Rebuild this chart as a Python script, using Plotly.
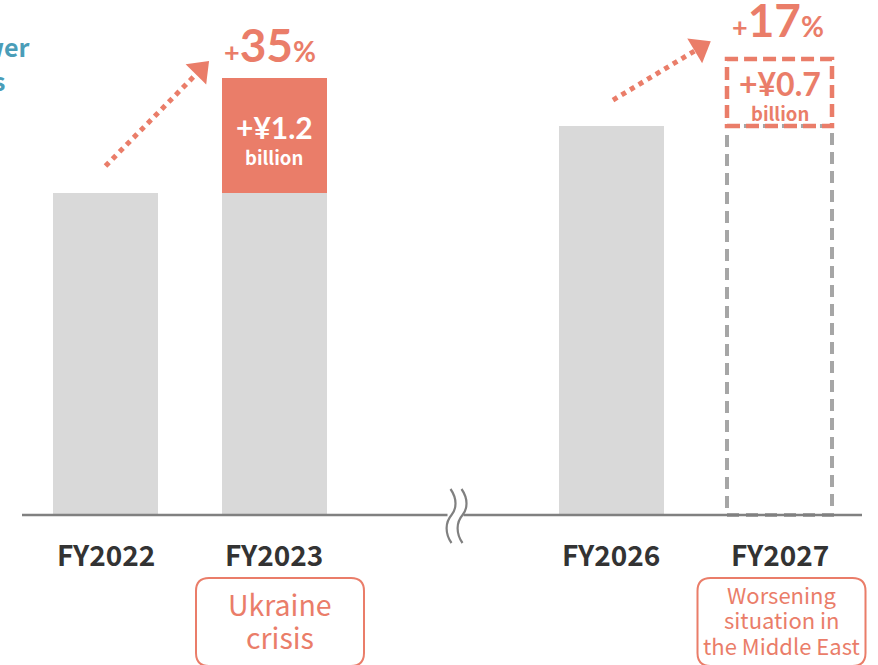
import math
import plotly.graph_objects as go

# ---------------- data ----------------
categories = ["FY2022", "FY2023", "FY2026", "FY2027"]
positions = [0, 1, 3, 4]
base_values = [3.36, 3.36, 4.06, 4.06]      # ¥ billion (estimated)
increments = [0.0, 1.2, 0.0, 0.7]           # ¥ billion
increase_labels = ["+¥1.2", "+¥0.7"]
pct_labels = ["35", "17"]
events = [["Ukraine", "crisis"], ["Worsening", "situation in", "the Middle East"]]
side_title = ["Power", "costs"]

# ---------------- styles ----------------
GRAY = "#D9D9D9"
SALMON = "#EA7D69"
DARK = "#333333"
AXIS = "#808080"
TEAL = "#4A9DB8"
FONT = "Noto Sans CJK JP"
NUMF = "Lato"

W, H = 878, 665
PX_PER_X = 168.5
X0_PX = 105.5
PX_PER_Y = 95.8
BASE_PX = 515
xr = [-X0_PX / PX_PER_X, (W - X0_PX) / PX_PER_X]
yr = [-(H - BASE_PX) / PX_PER_Y, BASE_PX / PX_PER_Y]
BW = 105 / PX_PER_X


def dx(p):  # pixel distance -> x units
    return p / PX_PER_X


def dy(p):  # pixel distance -> y units
    return p / PX_PER_Y


fig = go.Figure()

# solid gray bars (FY2027 is an outline only)
solid_idx = [0, 1, 2]
fig.add_trace(go.Bar(
    x=[positions[i] for i in solid_idx],
    y=[base_values[i] for i in solid_idx],
    width=BW, marker=dict(color=GRAY, line=dict(width=0)),
    hoverinfo="skip", showlegend=False,
))
# salmon increment FY2023
fig.add_trace(go.Bar(
    x=[positions[1]], y=[increments[1]], base=[base_values[1]],
    width=BW, marker=dict(color=SALMON, line=dict(width=0)),
    hoverinfo="skip", showlegend=False,
))

shapes = []
annotations = []

# FY2027 dashed outlines
x4 = positions[3]
shapes.append(dict(type="rect", xref="x", yref="y",
                   x0=x4 - BW / 2, x1=x4 + BW / 2, y0=0, y1=base_values[3],
                   line=dict(color="#A6A6A6", width=4, dash="12px,7px"),
                   fillcolor="rgba(0,0,0,0)", layer="above"))
shapes.append(dict(type="rect", xref="x", yref="y",
                   x0=x4 - BW / 2, x1=x4 + BW / 2,
                   y0=base_values[3], y1=base_values[3] + increments[3],
                   line=dict(color=SALMON, width=4.5, dash="13px,6px"),
                   fillcolor="rgba(0,0,0,0)", layer="above"))

# baseline with break
brk = 2.0 + dx(12)
shapes.append(dict(type="line", xref="x", yref="y", x0=xr[0] + dx(22), x1=brk - dx(7),
                   y0=0, y1=0, line=dict(color=AXIS, width=2.5)))
shapes.append(dict(type="line", xref="x", yref="y", x0=brk + dx(9), x1=xr[1] - dx(16),
                   y0=0, y1=0, line=dict(color=AXIS, width=2.5)))
for off in (-4, 7):
    cx = brk + dx(off)
    p = (f"M {cx:.4f},{dy(26):.4f} "
         f"C {cx + dx(7):.4f},{dy(16):.4f} {cx + dx(6):.4f},{dy(6):.4f} {cx + dx(1):.4f},{dy(0):.4f} "
         f"C {cx - dx(5):.4f},{dy(-7):.4f} {cx - dx(6):.4f},{dy(-18):.4f} {cx + dx(1):.4f},{dy(-28):.4f}")
    shapes.append(dict(type="path", xref="x", yref="y", path=p,
                       line=dict(color=AXIS, width=2.2)))

# category labels
for pos, cat in zip(positions, categories):
    annotations.append(dict(x=pos, y=0, xref="x", yref="y", yshift=-39,
                            text=f"<b>{cat}</b>", showarrow=False,
                            font=dict(family=FONT, size=28, color=DARK)))

# event boxes
box_specs = [(positions[1], 6, 28.5, [-88, -121]), (positions[3], 2, 22, [-79, -104, -130])]
for (pos, xoff, fs, ys), lines in zip(box_specs, events):
    cx = pos + dx(xoff)
    hw = dx(84)
    top = -dy(63)
    bot = -dy(151)
    r = 13
    rx, ry = dx(r), dy(r)
    path = (f"M {cx - hw + rx},{top} L {cx + hw - rx},{top} "
            f"Q {cx + hw},{top} {cx + hw},{top - ry} "
            f"L {cx + hw},{bot + ry} Q {cx + hw},{bot} {cx + hw - rx},{bot} "
            f"L {cx - hw + rx},{bot} Q {cx - hw},{bot} {cx - hw},{bot + ry} "
            f"L {cx - hw},{top - ry} Q {cx - hw},{top} {cx - hw + rx},{top} Z")
    shapes.append(dict(type="path", xref="x", yref="y", path=path,
                       line=dict(color=SALMON, width=2), fillcolor="white"))
    for ln, yy in zip(lines, ys):
        annotations.append(dict(x=cx, y=0, xref="x", yref="y", yshift=yy,
                                text=ln, showarrow=False,
                                font=dict(family=FONT, size=fs, color=SALMON)))

# increment labels
inc_idx = [1, 3]
for k, i in enumerate(inc_idx):
    mid = base_values[i] + increments[i] / 2
    col = "white" if k == 0 else SALMON
    big = 30 if k == 0 else 32
    annotations.append(dict(x=positions[i], y=mid, xref="x", yref="y",
                            yshift=9 if k == 0 else 9,
                            text=f"<b>{increase_labels[k]}</b>", showarrow=False,
                            font=dict(family=NUMF, size=big, color=col)))
    annotations.append(dict(x=positions[i], y=mid, xref="x", yref="y",
                            yshift=-21 if k == 0 else -20,
                            text="<b>billion</b>", showarrow=False,
                            font=dict(family=FONT, size=18.5, color=col)))
    top = base_values[i] + increments[i]
    annotations.append(dict(x=positions[i] - dx(4 if k == 0 else 2), y=top, xref="x", yref="y",
                            yanchor="bottom", yshift=4 if k == 0 else 10,
                            text=(f"<b><span style='font-size:27px'>+</span>"
                                  f"{pct_labels[k]}"
                                  f"<span style='font-size:28px'>%</span></b>"),
                            showarrow=False,
                            font=dict(family=NUMF, size=46, color=SALMON)))

# dotted growth arrows
arrows = [
    ((positions[0], base_values[0] + dy(27)), (positions[1] - dx(66), base_values[1] + increments[1] + dy(16))),
    ((positions[2] + dx(2), base_values[2] + dy(26)), (positions[3] - dx(70), base_values[3] + increments[3] + dy(17))),
]
for (sx, sy), (tx, ty) in arrows:
    vx = (tx - sx) * PX_PER_X
    vy = (ty - sy) * PX_PER_Y
    L = math.hypot(vx, vy)
    ux, uy = vx / L, vy / L
    ex = tx - dx(ux * 14)
    ey = ty - dy(uy * 14)
    fig.add_trace(go.Scatter(x=[sx, ex], y=[sy, ey], mode="lines",
                             line=dict(color=SALMON, width=5, dash="5px,5px"),
                             hoverinfo="skip", showlegend=False))
    ang = math.degrees(math.atan2(ux, uy))
    hx = tx - dx(ux * 11)
    hy = ty - dy(uy * 11)
    fig.add_trace(go.Scatter(x=[hx], y=[hy], mode="markers",
                             marker=dict(symbol="triangle-up", size=25, angle=ang,
                                         color=SALMON, line=dict(width=0)),
                             hoverinfo="skip", showlegend=False))

# cropped side title
annotations.append(dict(x=31 / W, y=1 - 46 / H, xref="paper", yref="paper",
                        xanchor="right", yanchor="middle", showarrow=False,
                        text=f"<b>{side_title[0]}</b>",
                        font=dict(family=FONT, size=25, color=TEAL)))
annotations.append(dict(x=7 / W, y=1 - 80 / H, xref="paper", yref="paper",
                        xanchor="right", yanchor="middle", showarrow=False,
                        text=f"<b>{side_title[1]}</b>",
                        font=dict(family=FONT, size=25, color=TEAL)))

fig.update_layout(
    width=W, height=H,
    margin=dict(l=0, r=0, t=0, b=0),
    paper_bgcolor="white", plot_bgcolor="white",
    barmode="overlay", bargap=0,
    xaxis=dict(range=xr, visible=False, fixedrange=True),
    yaxis=dict(range=yr, visible=False, fixedrange=True),
    shapes=shapes, annotations=annotations,
    showlegend=False,
)

fig.write_html("out.html", config={"displayModeBar": False},
               post_script="document.body.style.margin='0';")
